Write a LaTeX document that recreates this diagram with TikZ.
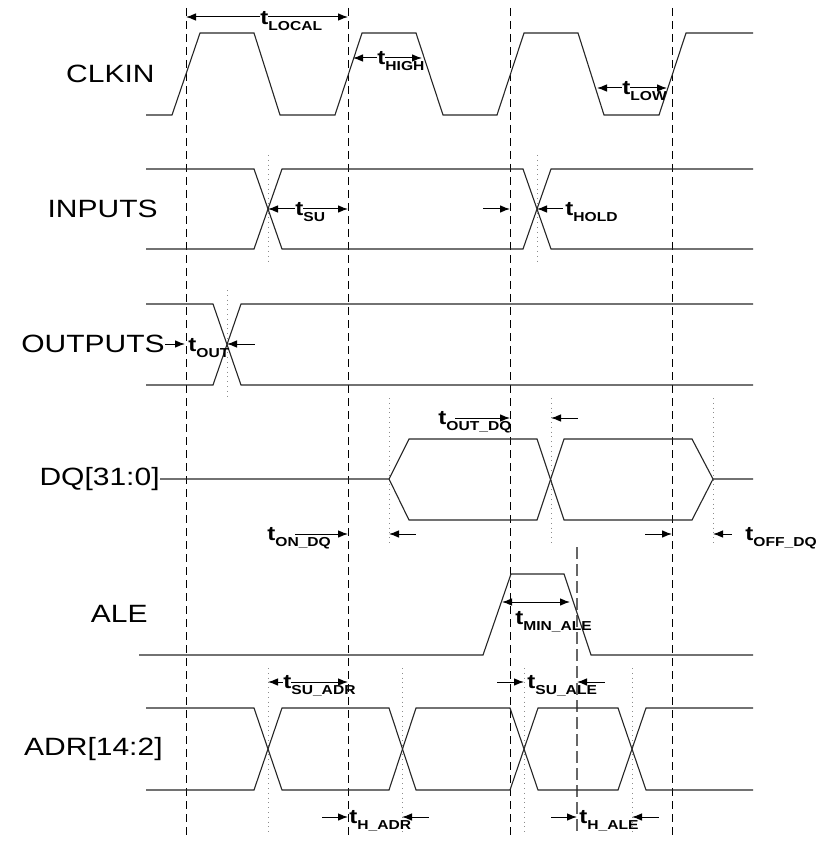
\documentclass[tikz,border=0pt]{standalone}
\usepackage{fontspec}
\setmainfont[FakeStretch=1.2]{Liberation Sans}
\usetikzlibrary{arrows.meta}
\tikzstyle{wave} = [line width=0.55pt, draw=black!85]
\tikzstyle{clkedge} = [line width=0.5pt, dash pattern=on 4pt off 2.5pt]
\tikzstyle{aleedge} = [line width=0.8pt, draw=black!60, dash pattern=on 6pt off 2.5pt]
\tikzstyle{cross} = [line width=0.4pt, draw=black!45, dotted]
\tikzstyle{dim} = [line width=0.5pt, >={Latex[length=5pt,width=3.8pt]}]
\tikzstyle{sig} = [anchor=east, inner sep=0pt, font=\fontsize{12.5}{12.5}\selectfont]
\tikzstyle{tlab} = [anchor=base west, inner sep=0pt, fill=white, font=\bfseries\fontsize{10}{10}\selectfont]
\newcommand{\tsub}[1]{t\rlap{\raisebox{-3pt}{\fontsize{6.5}{6.5}\selectfont #1}}}

\begin{document}
\begin{tikzpicture}[x=0.5pt, y=-0.5pt]
  \useasboundingbox (0,0) rectangle (819,844);

  % signal names
  \node (clkin) [sig] at (155,74) {CLKIN};
  \node (inputs) [sig] at (158,209) {INPUTS};
  \node (outputs) [sig] at (165,344) {OUTPUTS};
  \node (dq) [sig] at (160,479) {DQ[31:0]};
  \node (ale) [sig] at (148,614) {ALE};
  \node (adr) [sig] at (163,749) {ADR[14:2]};

  % clock edges and crossing marks
  \foreach \x in {186,348,510,672}
    \draw[clkedge] (\x,8) -- (\x,835);
  \draw[aleedge] (577,547) -- (577,835);
  \draw[cross] (268,155) -- (268,262);
  \draw[cross] (537,155) -- (537,262);
  \draw[cross] (227,290) -- (227,397);
  \foreach \x in {389,551,713}
    \draw[cross] (\x,398) -- (\x,545);
  \foreach \x in {268,402,524,632}
    \draw[cross] (\x,668) -- (\x,835);

  % waveforms
  \draw[wave] (146,115) -- (172,115) -- (200,33) -- (254,33) -- (280,115) -- (335,115) -- (362,33)
    -- (416,33) -- (443,115) -- (497,115) -- (524,33) -- (578,33) -- (604,115) -- (659,115)
    -- (686,33) -- (753,33);
  \draw[wave] (146,169) -- (254,169) -- (282,249) -- (523,249) -- (551,169) -- (753,169);
  \draw[wave] (146,249) -- (254,249) -- (282,169) -- (523,169) -- (551,249) -- (753,249);
  \draw[wave] (146,304) -- (213,304) -- (241,385) -- (753,385);
  \draw[wave] (146,385) -- (213,385) -- (241,304) -- (753,304);
  \draw[wave] (dq.east) -- (389,479) -- (409,439) -- (537,439) -- (564,520) -- (692,520) -- (713,479) -- (753,479);
  \draw[wave] (389,479) -- (409,520) -- (537,520) -- (564,439) -- (692,439) -- (713,479);
  \draw[wave] (139,655) -- (483,655) -- (511,574) -- (564,574) -- (591,655) -- (753,655);
  \draw[wave] (146,708) -- (254,708) -- (282,790) -- (389,790) -- (416,708) -- (510,708) -- (538,790)
    -- (618,790) -- (646,708) -- (753,708);
  \draw[wave] (146,790) -- (254,790) -- (282,708) -- (389,708) -- (416,790) -- (510,790) -- (538,708)
    -- (618,708) -- (646,790) -- (753,790);

  % timing arrows
  \draw[dim, <->] (186,17) -- (348,17);
  \draw[dim, <->] (353,58) -- (422,58);
  \draw[dim, <->] (597,88) -- (667,88);
  \draw[dim, <->] (268,209) -- (348,209);
  \draw[dim, ->] (483,209) -- (510,209);
  \draw[dim, <-] (537,209) -- (563,209);
  \draw[dim, ->] (outputs.east) -- (185,344);
  \draw[dim, <-] (227,344) -- (255,344);
  \draw[dim, ->] (455,418) -- (510,418);
  \draw[dim, <-] (551,418) -- (578,418);
  \draw[dim, ->] (295,534) -- (348,534);
  \draw[dim, <-] (389,534) -- (416,534);
  \draw[dim, ->] (645,534) -- (672,534);
  \draw[dim, <-] (713,534) -- (732,534);
  \draw[dim, <->] (502,602) -- (570,602);
  \draw[dim, <->] (268,682) -- (348,682);
  \draw[dim, ->] (322,817) -- (348,817);
  \draw[dim, <-] (402,817) -- (429,817);
  \draw[dim, ->] (497,682) -- (524,682);
  \draw[dim, <-] (577,682) -- (605,682);
  \draw[dim, ->] (551,817) -- (577,817);
  \draw[dim, <-] (632,817) -- (659,817);

  % timing names
  \node (t local) [tlab] at (260,25) {\tsub{LOCAL}};
  \node (t high) [tlab] at (377,65) {\tsub{HIGH}};
  \node (t low) [tlab] at (622,95) {\tsub{LOW}};
  \node (t su) [tlab] at (295,216) {\tsub{SU}};
  \node (t hold) [tlab] at (565,216) {\tsub{HOLD}};
  \node (t out) [tlab] at (188,351) {\tsub{OUT}};
  \node (t out dq) [tlab] at (438,424) {\tsub{OUT\_DQ}};
  \node (t on dq) [tlab] at (267,540) {\tsub{ON\_DQ}};
  \node (t off dq) [tlab] at (745,540) {\tsub{OFF\_DQ}};
  \node (t min ale) [tlab] at (515,624) {\tsub{MIN\_ALE}};
  \node (t su adr) [tlab] at (283,688) {\tsub{SU\_ADR}};
  \node (t h adr) [tlab] at (349,823) {\tsub{H\_ADR}};
  \node (t su ale) [tlab] at (527,688) {\tsub{SU\_ALE}};
  \node (t h ale) [tlab] at (579,823) {\tsub{H\_ALE}};

\end{tikzpicture}
\end{document}
